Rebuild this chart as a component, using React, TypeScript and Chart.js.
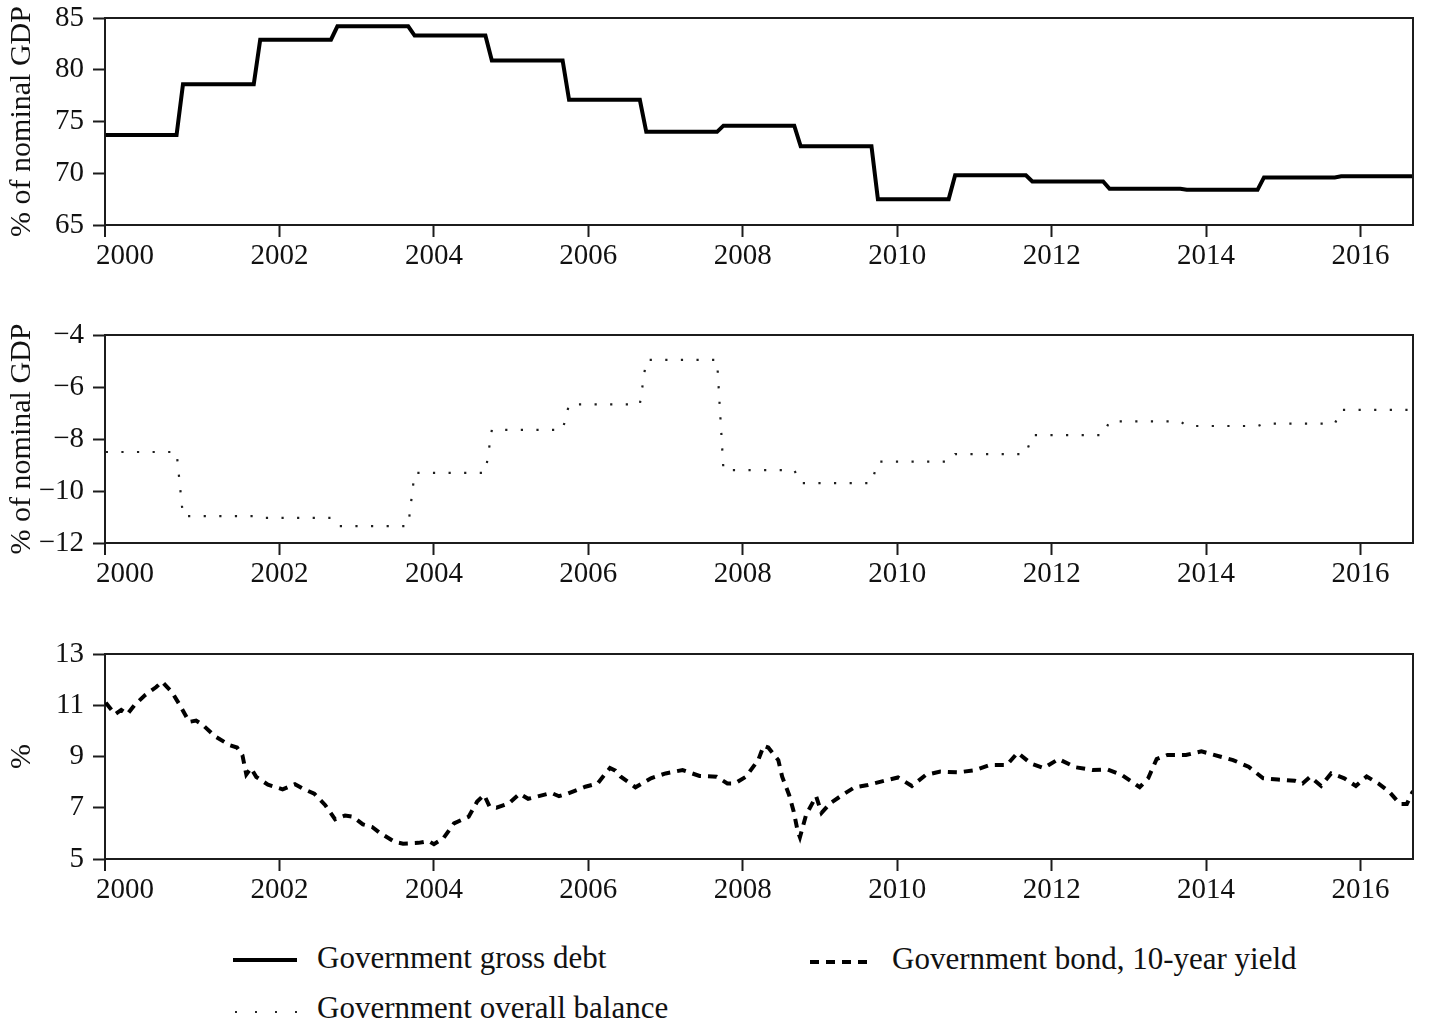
import React, { useEffect, useRef } from "react";
import { Chart, registerables } from "chart.js";

Chart.register(...registerables);

// ---------------- data ----------------
// fiscal years run October (previous year) to September
const debtFiscalYears = [2000, 2001, 2002, 2003, 2004, 2005, 2006, 2007, 2008, 2009, 2010, 2011, 2012, 2013, 2014, 2015, 2016];
const grossDebt = [73.7, 78.6, 82.9, 84.2, 83.3, 80.9, 77.1, 74.0, 74.6, 72.6, 67.5, 69.8, 69.2, 68.5, 68.4, 69.6, 69.7];

const balanceFiscalYears = [2000, 2001, 2002, 2003, 2004, 2005, 2006, 2007, 2008, 2009, 2010, 2011, 2012, 2013, 2014, 2015, 2016, 2017];
const overallBalance = [-8.5, -10.97, -11.03, -11.35, -9.3, -7.65, -6.67, -4.96, -9.2, -9.7, -8.87, -8.58, -7.85, -7.32, -7.5, -7.41, -6.88, -6.88];

const bondDates = [
  1999.75, 1999.87, 1999.95, 2000.03, 2000.12, 2000.26, 2000.4, 2000.48, 2000.61, 2000.72,
  2000.83, 2000.92, 2001.0, 2001.16, 2001.35, 2001.45, 2001.52, 2001.57, 2001.63, 2001.7,
  2001.85, 2002.04, 2002.2, 2002.3, 2002.45, 2002.59, 2002.72, 2002.85, 2002.95, 2003.08,
  2003.2, 2003.3, 2003.49, 2003.6, 2003.8, 2003.93, 2004.0, 2004.12, 2004.26, 2004.45,
  2004.56, 2004.65, 2004.72, 2004.81, 2004.97, 2005.11, 2005.22, 2005.33, 2005.52, 2005.62,
  2005.74, 2005.96, 2006.12, 2006.28, 2006.35, 2006.42, 2006.61, 2006.81, 2007.0, 2007.22,
  2007.44, 2007.66, 2007.8, 2007.9, 2008.04, 2008.2, 2008.27, 2008.33, 2008.46, 2008.51,
  2008.6, 2008.66, 2008.71, 2008.74, 2008.82, 2008.95, 2009.02, 2009.13, 2009.29, 2009.45,
  2009.62, 2009.79, 2010.01, 2010.19, 2010.37, 2010.56, 2010.79, 2011.01, 2011.2, 2011.42,
  2011.56, 2011.73, 2011.9, 2012.09, 2012.31, 2012.53, 2012.72, 2012.91, 2013.14, 2013.25,
  2013.36, 2013.5, 2013.74, 2013.94, 2014.19, 2014.35, 2014.55, 2014.74, 2014.93, 2015.15,
  2015.25, 2015.35, 2015.49, 2015.62, 2015.79, 2015.94, 2016.08, 2016.23, 2016.37, 2016.51,
  2016.6, 2016.68,
];
const bondYield = [
  11.1, 10.65, 10.82, 10.65, 11.0, 11.4, 11.7, 11.92, 11.5, 10.95,
  10.35, 10.4, 10.25, 9.8, 9.45, 9.35, 9.05, 8.3, 8.55, 8.2,
  7.9, 7.72, 7.92, 7.75, 7.55, 7.11, 6.55, 6.7, 6.65, 6.35,
  6.25, 6.02, 5.67, 5.6, 5.63, 5.7, 5.58, 5.8, 6.39, 6.65,
  7.24, 7.5, 7.05, 7.0, 7.17, 7.55, 7.35, 7.43, 7.58, 7.45,
  7.56, 7.82, 7.95, 8.55, 8.45, 8.21, 7.8, 8.15, 8.34, 8.47,
  8.24, 8.21, 7.95, 7.95, 8.21, 8.86, 9.42, 9.35, 8.86, 8.21,
  7.5, 6.85, 6.1, 5.85, 6.72, 7.45, 6.8, 7.17, 7.5, 7.8,
  7.89, 8.02, 8.18, 7.85, 8.28, 8.41, 8.38, 8.47, 8.67, 8.67,
  9.15, 8.73, 8.55, 8.9, 8.58, 8.47, 8.5, 8.28, 7.8, 8.15,
  8.9, 9.06, 9.06, 9.2, 8.99, 8.86, 8.6, 8.15, 8.1, 8.05,
  7.95, 8.21, 7.85, 8.34, 8.15, 7.85, 8.22, 7.95, 7.63, 7.15,
  7.15, 7.65,
];

const xTickYears = [2000, 2002, 2004, 2006, 2008, 2010, 2012, 2014, 2016];
const debtTicks = [65, 70, 75, 80, 85];
const balanceTicks = [-12, -10, -8, -6, -4];
const yieldTicks = [5, 7, 9, 11, 13];

const legendLabels = ["Government gross debt", "Government overall balance", "Government bond, 10-year yield"];

// ---------------- styling ----------------
const X_MIN = 1999.74;
const X_MAX = 2016.68;
const W = 1429;
const PLOT_LEFT = 105;
const PLOT_RIGHT = 1413;
const FONT = '"Liberation Serif", "Times New Roman", serif';
const INK = "#1c1c1c";

function fiscalSteps(years: number[], values: number[]) {
  const pts: { x: number; y: number }[] = [];
  years.forEach((fy, i) => {
    pts.push({ x: fy - 1 + 9 / 12, y: values[i] }); // October of previous year
    pts.push({ x: fy + 8 / 12, y: values[i] }); // September
  });
  return pts;
}

const framePlugin = {
  id: "frame",
  afterDraw(chart: any) {
    const { ctx, chartArea } = chart;
    const { left, right, top, bottom } = chartArea;
    ctx.save();
    ctx.strokeStyle = INK;
    ctx.lineWidth = 2;
    ctx.beginPath();
    ctx.moveTo(left, top);
    ctx.lineTo(right, top);
    ctx.lineTo(right, bottom);
    ctx.stroke();
    ctx.beginPath();
    ctx.moveTo(left, bottom);
    ctx.lineTo(left, bottom + 12);
    ctx.stroke();
    ctx.restore();
  },
};

function fmtTick(v: number) {
  return v < 0 ? "\u2212" + Math.abs(v) : String(v);
}

type PanelProps = {
  top: number;
  height: number;
  areaTop: number;
  areaBottom: number;
  yMin: number;
  yMax: number;
  yTicks: number[];
  title: string;
  dataset: any;
};

function Panel({ top, height, areaTop, areaBottom, yMin, yMax, yTicks, title, dataset }: PanelProps) {
  const ref = useRef<HTMLCanvasElement>(null);
  useEffect(() => {
    if (!ref.current) return;
    const chart = new Chart(ref.current, {
      type: "line",
      data: { datasets: [dataset] },
      options: {
        responsive: false,
        animation: false,
        events: [],
        layout: { padding: { left: 0, right: W - PLOT_RIGHT, top: areaTop - top, bottom: 0 } },
        plugins: { legend: { display: false }, tooltip: { enabled: false } },
        scales: {
          x: {
            type: "linear",
            min: X_MIN,
            max: X_MAX,
            afterBuildTicks: (s: any) => {
              s.ticks = xTickYears.map((v) => ({ value: v }));
            },
            afterFit: (s: any) => {
              s.height = height - (areaBottom - top);
              s.paddingLeft = 0;
              s.paddingRight = 0;
            },
            grid: {
              display: true,
              drawOnChartArea: false,
              drawTicks: true,
              tickLength: 12,
              tickWidth: 2,
              tickColor: (c: any) => (c.tick && c.tick.value === xTickYears[0] ? "rgba(0,0,0,0)" : INK),
            },
            border: { display: true, color: INK, width: 2 },
            ticks: {
              autoSkip: false,
              maxRotation: 0,
              padding: 2,
              color: "#111",
              font: { family: FONT, size: 29 },
              callback: (v: any) => String(v),
            },
          },
          y: {
            type: "linear",
            min: yMin,
            max: yMax,
            afterBuildTicks: (s: any) => {
              s.ticks = yTicks.map((v) => ({ value: v }));
            },
            afterFit: (s: any) => {
              s.width = PLOT_LEFT;
              s.paddingTop = 0;
              s.paddingBottom = 0;
            },
            grid: {
              display: true,
              drawOnChartArea: false,
              drawTicks: true,
              tickLength: 12,
              tickWidth: 2,
              tickColor: INK,
            },
            border: { display: true, color: INK, width: 2 },
            ticks: {
              padding: 9,
              color: "#111",
              font: { family: FONT, size: 29 },
              callback: (v: any) => fmtTick(Number(v)),
            },
            title: {
              display: true,
              text: title,
              color: "#111",
              font: { family: FONT, size: 30 },
              padding: { top: 4, bottom: 0 },
            },
          },
        },
      },
      plugins: [framePlugin],
    } as any);
    return () => chart.destroy();
  }, []);
  return (
    <canvas
      ref={ref}
      width={W}
      height={height}
      style={{ position: "absolute", left: 0, top, width: W, height }}
    />
  );
}

export default function App() {
  const debtDataset = {
    data: fiscalSteps(debtFiscalYears, grossDebt),
    borderColor: "#000",
    borderWidth: 4,
    pointRadius: 0,
    tension: 0,
    fill: false,
  };
  const balanceDataset = {
    data: fiscalSteps(balanceFiscalYears, overallBalance),
    borderColor: "#1e1e1e",
    borderWidth: 2.2,
    borderDash: [2.2, 13.4],
    pointRadius: 0,
    tension: 0,
    fill: false,
    clip: false,
  };
  const bondDataset = {
    data: bondDates.map((d, i) => ({ x: d, y: bondYield[i] })),
    borderColor: "#000",
    borderWidth: 4,
    borderDash: [9, 7],
    pointRadius: 0,
    tension: 0,
    fill: false,
  };

  const textStyle: React.CSSProperties = {
    position: "absolute",
    fontFamily: FONT,
    fontSize: 31,
    lineHeight: "31px",
    color: "#111",
    whiteSpace: "nowrap",
  };

  return (
    <div style={{ position: "absolute", left: 0, top: 0, width: W, height: 1025, background: "#fff", overflow: "hidden" }}>
      <Panel top={0} height={290} areaTop={18} areaBottom={225} yMin={65} yMax={85} yTicks={debtTicks} title="% of nominal GDP" dataset={debtDataset} />
      <Panel top={300} height={300} areaTop={335} areaBottom={543} yMin={-12} yMax={-4} yTicks={balanceTicks} title="% of nominal GDP" dataset={balanceDataset} />
      <Panel top={620} height={300} areaTop={654} areaBottom={859} yMin={5} yMax={13} yTicks={yieldTicks} title="%" dataset={bondDataset} />

      <svg width={W} height={105} style={{ position: "absolute", left: 0, top: 920 }}>
        <line x1={233} y1={40} x2={297} y2={40} stroke="#000" strokeWidth={4} />
        <line x1={235} y1={92} x2={298} y2={92} stroke="#2a2a2a" strokeWidth={2} strokeDasharray="2 18" />
        <line x1={810} y1={42} x2={873} y2={42} stroke="#000" strokeWidth={4} strokeDasharray="9 7" />
      </svg>
      <span style={{ ...textStyle, left: 317, top: 942 }}>{legendLabels[0]}</span>
      <span style={{ ...textStyle, left: 317, top: 992 }}>{legendLabels[1]}</span>
      <span style={{ ...textStyle, left: 892, top: 943 }}>{legendLabels[2]}</span>
    </div>
  );
}
